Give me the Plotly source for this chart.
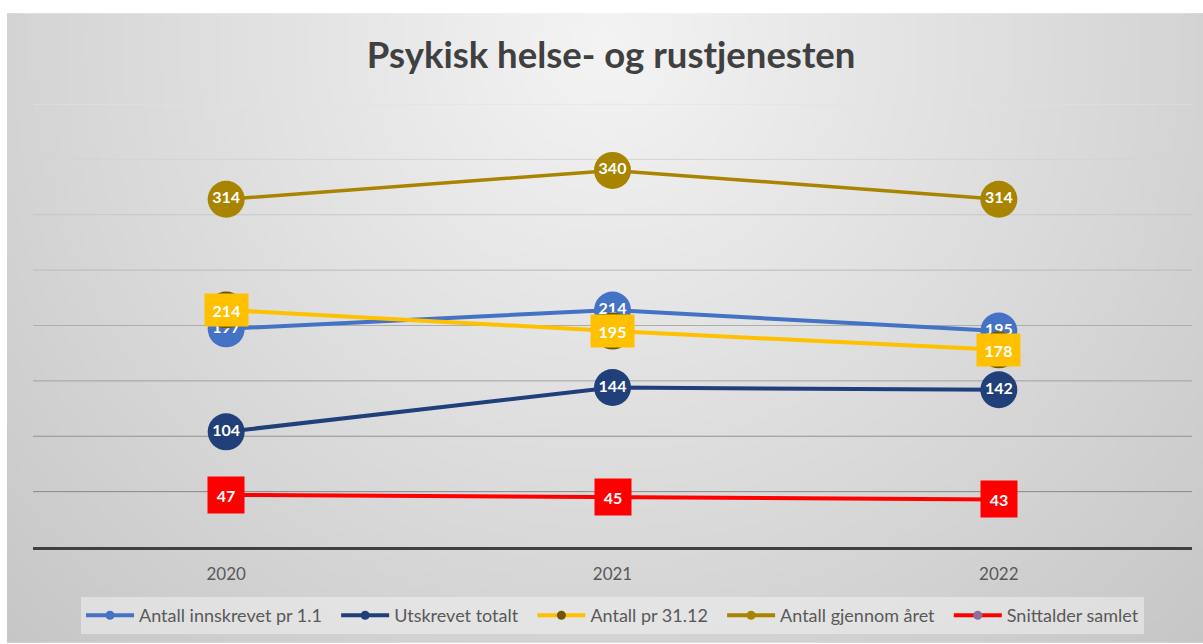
import base64, struct, zlib
import numpy as np
import plotly.graph_objects as go

years = ["2020", "2021", "2022"]
innskrevet = [197, 214, 195]
utskrevet = [104, 144, 142]
antall_3112 = [214, 195, 178]
gjennom_aaret = [314, 340, 314]
snittalder = [47, 45, 43]
grid_vals = [50, 100, 150, 200, 250, 300, 350, 400]

names = ["Antall innskrevet pr 1.1", "Utskrevet totalt", "Antall pr 31.12",
         "Antall gjennom året", "Snittalder samlet"]

BLUE = "#4472C4"
NAVY = "#213F78"
YELLOW = "#FFC000"
GOLD = "#A98400"
RED = "#FF0000"
YEL_MK = "#6F5600"
RED_MK = "#8E6F9A"
FONT = "Lato"


def gradient_png(w=240, h=128):
    ys, xs = np.mgrid[0:h, 0:w]
    fx = (xs / (w - 1) - 0.5) / 0.5
    fy = (ys / (h - 1) - 0.05) / 0.95
    d = np.sqrt(fx ** 2 + fy ** 2)
    val = np.clip(244 - 32 * d, 0, 255).astype(np.uint8)
    raw = b"".join(b"\x00" + val[r].tobytes() for r in range(h))

    def chunk(tag, data):
        c = struct.pack(">I", len(data)) + tag + data
        return c + struct.pack(">I", zlib.crc32(tag + data) & 0xFFFFFFFF)

    png = b"\x89PNG\r\n\x1a\n"
    png += chunk(b"IHDR", struct.pack(">IIBBBBB", w, h, 8, 0, 0, 0, 0))
    png += chunk(b"IDAT", zlib.compress(raw, 9))
    png += chunk(b"IEND", b"")
    return "data:image/png;base64," + base64.b64encode(png).decode()


W, H = 1203, 644
L, R, T, B = 33, 11, 104, 96
PW, PH = W - L - R, H - T - B

fig = go.Figure()

label_font = dict(family=FONT, size=16, color="white", weight="bold")

for vals, col in [(innskrevet, BLUE), (utskrevet, NAVY)]:
    fig.add_trace(go.Scatter(
        x=years, y=vals, mode="lines+markers+text", text=[str(v) for v in vals],
        textposition="middle center", textfont=label_font,
        line=dict(color=col, width=4),
        marker=dict(size=37, color=col, line=dict(width=0)),
        showlegend=False, hoverinfo="skip"))

fig.add_trace(go.Scatter(
    x=years, y=antall_3112, mode="lines+markers",
    line=dict(color=YELLOW, width=4),
    marker=dict(size=37, color=YEL_MK),
    showlegend=False, hoverinfo="skip"))

fig.add_trace(go.Scatter(
    x=years, y=gjennom_aaret, mode="lines+markers+text",
    text=[str(v) for v in gjennom_aaret], textposition="middle center",
    textfont=label_font, line=dict(color=GOLD, width=3.5),
    marker=dict(size=37, color=GOLD), showlegend=False, hoverinfo="skip"))

fig.add_trace(go.Scatter(
    x=years, y=snittalder, mode="lines+markers",
    line=dict(color=RED, width=4),
    marker=dict(size=34, color=RED_MK),
    showlegend=False, hoverinfo="skip"))

# rectangular data labels (category index positions)
for vals, col, w, h in [(antall_3112, YELLOW, 37, 26), (snittalder, RED, 30, 30)]:
    for i, v in enumerate(vals):
        fig.add_annotation(x=i, y=v, xref="x", yref="y", text=str(v),
                           showarrow=False, bgcolor=col, width=w, height=h,
                           borderpad=3, font=label_font)

GAP = "\u00a0" * 2
for k, (name, lc, mc) in enumerate(zip(names, [BLUE, NAVY, YELLOW, GOLD, RED],
                                       [BLUE, NAVY, YEL_MK, GOLD, RED_MK])):
    fig.add_trace(go.Scatter(
        x=[None], y=[None], mode="lines+markers",
        name=name + (GAP if k < len(names) - 1 else ""),
        line=dict(color=lc, width=4), marker=dict(size=9, color=mc)))

for i, gv in enumerate(grid_vals):
    g = int(135 + 90 * i / (len(grid_vals) - 1))
    fig.add_shape(type="line", xref="paper", yref="y", x0=0, x1=1, y0=gv, y1=gv,
                  line=dict(color=f"rgb({g},{g},{g})", width=1), layer="below")

fig.add_layout_image(dict(
    source=gradient_png(), xref="paper", yref="paper",
    x=(7 - L) / PW, y=(H - B - 13) / PH,
    sizex=(W - 7) / PW, sizey=(H - 13) / PH,
    xanchor="left", yanchor="top", sizing="stretch", layer="below"))

fig.update_layout(
    width=W, height=H,
    margin=dict(l=L, r=R, t=T, b=B),
    paper_bgcolor="white", plot_bgcolor="rgba(0,0,0,0)",
    title=dict(text="Psykisk helse- og rustjenesten", x=0.508, xanchor="center",
               y=1 - 55 / H, yanchor="middle",
               font=dict(family=FONT, size=36.5, color="#404040", weight="bold")),
    font=dict(family=FONT, color="#595959"),
    xaxis=dict(type="category", range=[-0.5, 2.5], showgrid=False,
               showline=True, linecolor="#404040", linewidth=3,
               tickfont=dict(size=17, color="#595959"), ticks="",
               ticklabelstandoff=10, zeroline=False),
    yaxis=dict(range=[0, 400], showgrid=False, showticklabels=False,
               zeroline=False, showline=False),
    legend=dict(orientation="h", x=0.5, xanchor="center",
                y=(H - B - 597) / PH, yanchor="top",
                bgcolor="rgba(240,240,240,0.55)", itemwidth=48,
                font=dict(size=18, color="#595959", family=FONT),
                tracegroupgap=0),
    showlegend=True,
)

fig.write_html("out.html", config={"displayModeBar": False},
               post_script="document.body.style.margin='0';document.body.style.overflow='hidden';")
